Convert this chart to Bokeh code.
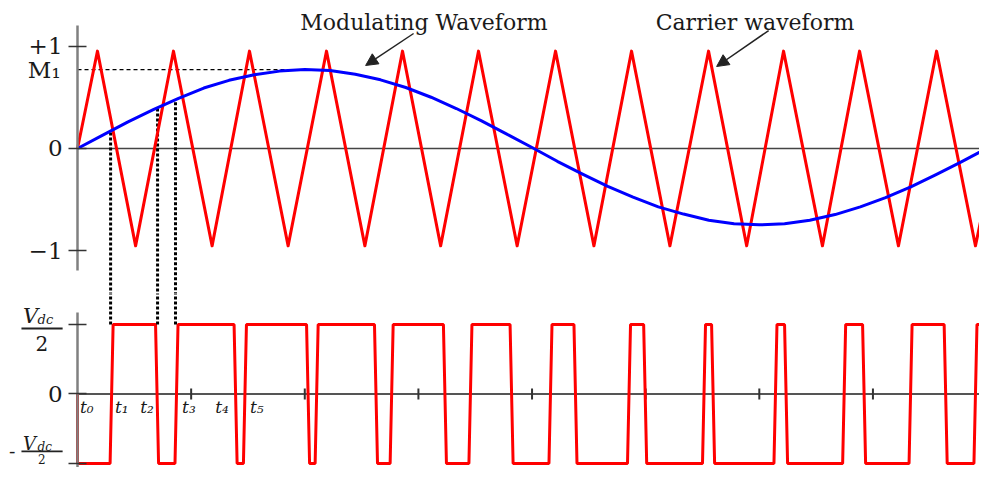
from bokeh.plotting import figure
from bokeh.models import Range1d, LinearAxis, FixedTicker, Label, Arrow, NormalHead
from bokeh.layouts import column
from bokeh.embed import file_html
from bokeh.resources import INLINE

# ---------------- data (x = electrical angle of the modulating wave, degrees) ----------------
mod_deg = [0, 10, 20, 30, 40, 50, 60, 70, 80, 90, 100, 110, 120, 130, 140, 150, 160, 170, 180,
           190, 200, 210, 220, 230, 240, 250, 260, 270, 280, 290, 300, 310, 320, 330, 340, 350, 360]
mod_val = [0.00, 0.13, 0.26, 0.38, 0.49, 0.59, 0.665, 0.72, 0.755, 0.77, 0.76, 0.725, 0.67,
           0.595, 0.50, 0.39, 0.27, 0.14, 0.01,
           -0.125, -0.25, -0.37, -0.475, -0.57, -0.64, -0.70, -0.735, -0.745, -0.735, -0.70,
           -0.645, -0.57, -0.48, -0.375, -0.255, -0.13, 0.00]
m1_level = 0.77
m1_peak_deg = 96

carrier_deg = [0, 7.9, 23.0, 38.0, 53.3, 68.1, 83.4, 98.6, 113.8, 128.7, 143.8, 158.8, 174.1,
               189.3, 204.5, 219.4, 234.6, 249.9, 265.0, 279.6, 295.0, 309.7, 325.1, 340.2,
               355.6, 360.4]
carrier_val = [0, 0.95, -0.95, 0.95, -0.95, 0.95, -0.95, 0.95, -0.95, 0.95, -0.95, 0.95, -0.95,
               0.95, -0.95, 0.95, -0.95, 0.95, -0.95, 0.95, -0.95, 0.95, -0.95, 0.95,
               -0.95, -0.38]

# switching instants of the PWM output (alternating rise / fall, output starts low)
pwm_edges_deg = [13.5, 31.5, 39.2, 62.6, 66.3, 91.3, 94.7, 118.2, 124.4, 145.5, 155.6, 171.9,
                 187.3, 197.2, 218.4, 224.8, 248.1, 251.7, 276.4, 280.6, 303.6, 311.5, 329.9,
                 343.8, 355.6]
pwm_end_deg = 360.4

# intersections projected down with dotted lines
marked_deg = [13.1, 31.7, 38.8]
marked_val = [0.155, 0.39, 0.45]

top_ticks = [1, 0, -1]
top_tick_labels = ["+1", "0", "\u22121"]
bottom_ticks = [1, 0, -1]
bottom_tick_labels = ["", "0", ""]
time_ticks_deg = [45, 90, 135, 180, 225, 270, 315, 360]
t_labels = ["t\u2080", "t\u2081", "t\u2082", "t\u2083", "t\u2084", "t\u2085"]
t_label_deg = [1.0, 14.8, 24.8, 41.4, 54.5, 68.3]

SERIF = "DejaVu Serif"
RED = "#FF0000"
BLUE = "#0000FF"
INK = "#1a1a1a"

X_RANGE = Range1d(-30.5, 357.2)
X_END = 360.4


def base_fig(h, yr):
    p = figure(width=979, height=h, x_range=X_RANGE, y_range=yr,
               x_axis_type=None, y_axis_type=None, toolbar_location=None,
               output_backend="svg", min_border_left=0, min_border_right=0,
               min_border_top=0, min_border_bottom=0)
    p.outline_line_color = None
    p.background_fill_color = "white"
    p.border_fill_color = "white"
    return p


def yaxis(ticks, labels, bounds):
    return LinearAxis(fixed_location=0, ticker=FixedTicker(ticks=ticks),
                      major_label_overrides=dict(zip(ticks, labels)),
                      bounds=bounds, axis_line_color="#808080", axis_line_width=2.5,
                      major_tick_line_color="#333333", major_tick_line_width=1.5,
                      major_tick_in=9, major_tick_out=9, minor_tick_line_color=None,
                      major_label_text_font=SERIF, major_label_text_font_size="23px",
                      major_label_text_color=INK, major_label_standoff=6)


def label(p, x, y, text, size, align="left", style="normal"):
    p.add_layout(Label(x=x, y=y, text=text, text_font=SERIF, text_font_size=size,
                       text_font_style=style, text_align=align, text_baseline="middle",
                       text_color=INK))


# ---------------- top panel: modulating + carrier ----------------
p1 = base_fig(293, Range1d(-1.415, 1.444))
p1.segment(x0=[0], y0=[0], x1=[X_END], y1=[0], line_color="#444444", line_width=1.5)
p1.line([0, m1_peak_deg], [m1_level, m1_level], line_color="black", line_width=1.2,
        line_dash="4 3")
p1.segment(x0=marked_deg, y0=marked_val, x1=marked_deg, y1=[-1.6] * len(marked_deg),
           line_color="black", line_width=3, line_dash="3 2")
p1.line(carrier_deg, carrier_val, line_color=RED, line_width=3, line_join="round")
p1.line(mod_deg, mod_val, line_color=BLUE, line_width=3, line_join="round")
p1.add_layout(yaxis(top_ticks, top_tick_labels, (-1.19, 1.2)), "left")

label(p1, -6.7, m1_level, "M\u2081", "23px", align="right")
label(p1, 137.2, 1.225, "Modulating Waveform", "22px", align="center")
label(p1, 268.3, 1.225, "Carrier waveform", "22px", align="center")
p1.add_layout(Arrow(end=NormalHead(size=12, fill_color="#222222", line_color="#222222"),
                    x_start=133.1, y_start=1.122, x_end=114.1, y_end=0.81,
                    line_color="#222222", line_width=1.5))
p1.add_layout(Arrow(end=NormalHead(size=12, fill_color="#222222", line_color="#222222"),
                    x_start=273.7, y_start=1.151, x_end=253.1, y_end=0.80,
                    line_color="#222222", line_width=1.5))

# ---------------- bottom panel: PWM output ----------------
p2 = base_fig(174, Range1d(-1.058, 1.446))
p2.segment(x0=[0], y0=[0], x1=[X_END], y1=[0], line_color="#555555", line_width=2)
p2.segment(x0=time_ticks_deg, y0=[-0.08] * len(time_ticks_deg), x1=time_ticks_deg,
           y1=[0.08] * len(time_ticks_deg), line_color="#333333", line_width=2)

ramp = 0.6
pwm_x = [0, 0]
pwm_y = [0, -1]
level = -1
for t in pwm_edges_deg:
    pwm_x += [t - ramp, t + ramp]
    pwm_y += [level, -level]
    level = -level
pwm_x.append(pwm_end_deg)
pwm_y.append(level)
p2.line(pwm_x, pwm_y, line_color=RED, line_width=3)

p2.segment(x0=marked_deg, y0=[1] * len(marked_deg), x1=marked_deg, y1=[1.6] * len(marked_deg),
           line_color="black", line_width=3, line_dash="3 2")
p2.add_layout(yaxis(bottom_ticks, bottom_tick_labels, (-2, 1.173)), "left")

for txt, xd in zip(t_labels, t_label_deg):
    label(p2, xd, -0.19, txt, "17px", style="italic")


def frac(p, y_v, y_dc, y_bar, y_two, size_v, size_dc, size_two, minus=False):
    label(p, -21.6, y_v, "V", size_v, style="italic")
    label(p, -15.8, y_dc, "dc", size_dc, style="italic")
    p.line([-22.2, -5.9], [y_bar, y_bar], line_color="#222222", line_width=1.8)
    label(p, -14.1, y_two, "2", size_two, align="center")
    if minus:
        label(p, -25.9, y_bar, "-", "19px", align="center")


frac(p2, 1.122, 1.072, 0.942, 0.727, "21px", "13px", "20px")
frac(p2, -0.712, -0.770, -0.827, -0.942, "18px", "12px", "12px", minus=True)

layout = column(p1, p2, spacing=0)
open("out.html", "w").write(file_html(layout, INLINE))
